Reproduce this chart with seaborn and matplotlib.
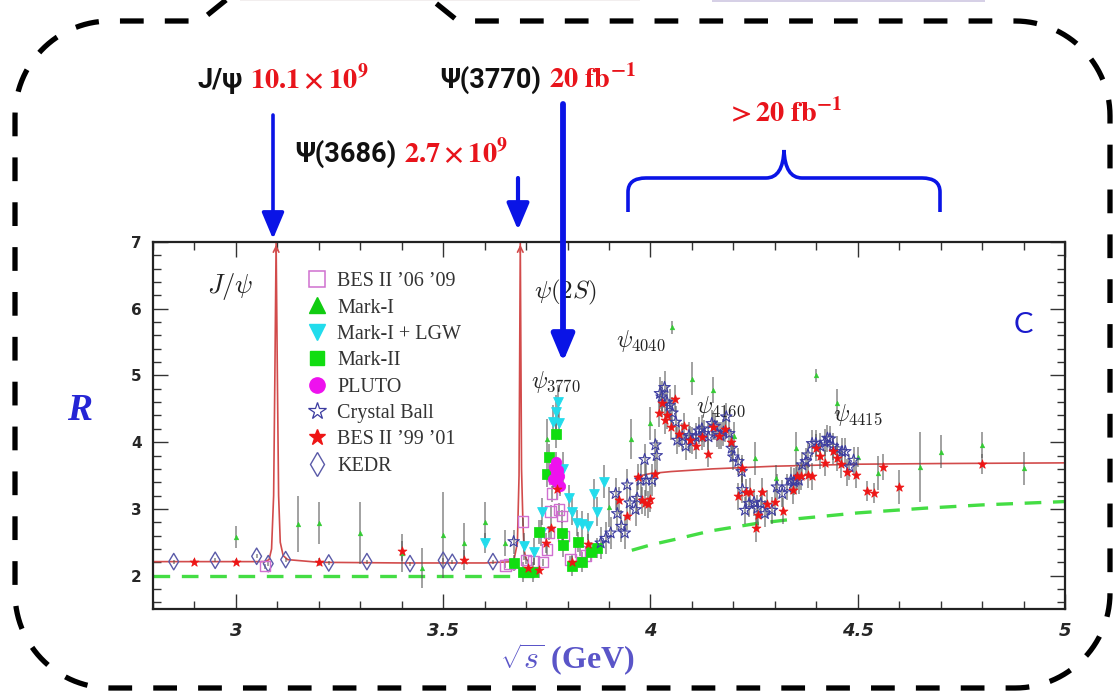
import numpy as np
import pandas as pd
import seaborn as sns
import matplotlib.pyplot as plt
from matplotlib.lines import Line2D
from matplotlib.patches import FancyArrowPatch, PathPatch, Rectangle
from matplotlib.path import Path

# ---- data (sqrt(s) in GeV, R, error) ----
kedr_x = [2.85, 2.95, 3.05, 3.078, 3.12, 3.224, 3.316, 3.42, 3.50, 3.522, 3.62]
kedr_y = [2.21, 2.23, 2.29, 2.18, 2.24, 2.19, 2.21, 2.18, 2.23, 2.20, 2.21]
kedr_e = [0.03, 0.03, 0.03, 0.03, 0.03, 0.03, 0.03, 0.03, 0.03, 0.03, 0.03]

bes0609_x = [3.07, 3.65, 3.66, 3.693, 3.70, 3.718, 3.74, 3.75, 3.755, 3.759,
             3.763, 3.767, 3.779, 3.787, 3.79, 3.807, 3.83, 3.845]
bes0609_y = [2.14, 2.15, 2.17, 2.81, 2.23, 2.21, 2.20, 2.39, 2.64, 2.96,
             3.23, 3.45, 2.99, 2.89, 2.59, 2.24, 2.36, 2.30]
bes0609_e = [0.04, 0.04, 0.04, 0.06, 0.05, 0.05, 0.05, 0.08, 0.10, 0.10,
             0.12, 0.12, 0.10, 0.10, 0.08, 0.06, 0.06, 0.06]

pluto_x = [3.765, 3.768, 3.771, 3.772, 3.774, 3.777, 3.780, 3.783]
pluto_y = [3.45, 3.63, 3.55, 3.70, 3.40, 3.58, 3.50, 3.35]
pluto_e = [0.15, 0.15, 0.15, 0.15, 0.15, 0.15, 0.15, 0.15]

marki_x = [3.00, 3.15, 3.20, 3.30, 3.40, 3.45, 3.50, 3.55, 3.60, 3.65,
           3.75, 3.90, 3.952, 4.00, 4.051, 4.101, 4.151, 4.202, 4.252, 4.302,
           4.35, 4.399, 4.451, 4.501, 4.55, 4.651, 4.70, 4.80, 4.90]
marki_y = [2.58, 2.78, 2.79, 2.64, 2.34, 2.11, 2.61, 2.49, 2.80, 2.49,
           4.05, 3.03, 4.05, 4.28, 5.72, 4.95, 4.78, 4.10, 3.76, 3.46,
           3.91, 5.00, 4.59, 3.78, 3.54, 3.63, 3.86, 3.96, 3.61]
marki_e = [0.16, 0.42, 0.32, 0.46, 0.28, 0.30, 0.65, 0.30, 0.30, 0.20,
           0.30, 0.30, 0.30, 0.25, 0.10, 0.25, 0.20, 0.20, 0.25, 0.20,
           0.25, 0.10, 0.20, 0.15, 0.25, 0.53, 0.25, 0.20, 0.25]

lgw_x = [3.60, 3.695, 3.72, 3.735, 3.739, 3.765, 3.772, 3.776, 3.780, 3.79,
         3.803, 3.811, 3.823, 3.835, 3.849, 3.865, 3.87, 3.888]
lgw_y = [2.49, 2.44, 2.36, 2.64, 2.96, 4.30, 4.45, 4.60, 4.28, 3.60,
         3.16, 2.96, 2.79, 2.77, 2.74, 3.23, 2.96, 3.41]
lgw_e = [0.15, 0.20, 0.20, 0.20, 0.20, 0.25, 0.25, 0.25, 0.25, 0.25,
         0.20, 0.20, 0.20, 0.20, 0.20, 0.22, 0.22, 0.25]

markii_x = [3.672, 3.693, 3.717, 3.731, 3.75, 3.755, 3.771, 3.787, 3.79, 3.81,
            3.825, 3.835, 3.856, 3.872]
markii_y = [2.19, 2.06, 2.06, 2.66, 3.53, 3.78, 4.13, 2.64, 2.46, 2.14,
            2.50, 2.20, 2.35, 2.41]
markii_e = [0.12, 0.15, 0.15, 0.18, 0.20, 0.20, 0.22, 0.18, 0.18, 0.15,
            0.15, 0.15, 0.15, 0.15]

cb_x = [3.67, 3.88, 3.892, 3.904, 3.916, 3.92, 3.93, 3.938, 3.944, 3.95,
        3.964, 3.968, 3.976, 3.986, 3.99, 4.004, 4.012, 4.015, 4.023, 4.027,
        4.034, 4.04, 4.046, 4.053, 4.061, 4.065, 4.077, 4.085, 4.093, 4.101,
        4.109, 4.117, 4.124, 4.13, 4.14, 4.148, 4.155, 4.161, 4.169, 4.176,
        4.183, 4.19, 4.196, 4.20, 4.212, 4.22, 4.222, 4.228, 4.238, 4.25,
        4.258, 4.266, 4.276, 4.293, 4.305, 4.318, 4.33, 4.339, 4.346, 4.35,
        4.358, 4.366, 4.375, 4.38, 4.39, 4.399, 4.41, 4.42, 4.427, 4.433,
        4.44, 4.45, 4.462, 4.47, 4.48, 4.49]
cb_y = [2.51, 2.49, 2.56, 2.64, 3.23, 2.93, 2.74, 2.64, 3.36, 3.09,
        2.99, 3.16, 3.43, 3.74, 3.43, 3.43, 3.96, 3.80, 4.73, 4.68,
        4.82, 4.60, 4.55, 4.44, 4.30, 4.03, 4.08, 3.94, 4.10, 4.03,
        4.08, 4.17, 4.20, 4.13, 4.08, 4.28, 4.24, 4.13, 4.10, 4.15,
        4.38, 4.13, 3.91, 3.78, 3.71, 3.56, 3.29, 2.98, 3.08, 3.10,
        3.01, 3.08, 2.93, 2.98, 3.33, 3.23, 3.33, 3.43, 3.41, 3.43,
        3.43, 3.66, 3.71, 3.81, 3.98, 3.98, 3.94, 4.00, 4.06, 4.05,
        3.94, 3.90, 3.86, 3.86, 3.63, 3.73]
cb_e = [0.18, 0.24, 0.24, 0.24, 0.24, 0.24, 0.24, 0.24, 0.24, 0.24,
        0.24, 0.24, 0.24, 0.24, 0.24, 0.24, 0.24, 0.24, 0.24, 0.24,
        0.24, 0.24, 0.24, 0.24, 0.24, 0.20, 0.20, 0.20, 0.20, 0.20,
        0.20, 0.20, 0.20, 0.20, 0.20, 0.20, 0.20, 0.20, 0.20, 0.20,
        0.20, 0.20, 0.20, 0.20, 0.20, 0.20, 0.20, 0.20, 0.20, 0.20,
        0.20, 0.20, 0.20, 0.20, 0.20, 0.20, 0.20, 0.20, 0.20, 0.20,
        0.20, 0.20, 0.20, 0.20, 0.20, 0.20, 0.20, 0.20, 0.20, 0.20,
        0.20, 0.20, 0.20, 0.20, 0.20, 0.20]

bes9901_x = [2.90, 3.00, 3.20, 3.40, 3.55, 3.704, 3.73, 3.749, 3.76, 3.775,
             3.81, 3.85, 3.924, 3.944, 3.97, 3.98, 3.988, 3.995, 4.00, 4.01,
             4.02, 4.028, 4.034, 4.04, 4.05, 4.06, 4.07, 4.08, 4.095, 4.11,
             4.124, 4.14, 4.15, 4.165, 4.18, 4.195, 4.21, 4.22, 4.23, 4.24,
             4.254, 4.26, 4.27, 4.28, 4.30, 4.32, 4.343, 4.354, 4.362, 4.38,
             4.39, 4.40, 4.41, 4.42, 4.44, 4.45, 4.46, 4.475, 4.496, 4.522,
             4.54, 4.56, 4.60, 4.80]
bes9901_y = [2.21, 2.21, 2.21, 2.37, 2.24, 2.11, 2.08, 2.49, 2.72, 3.30,
             2.20, 2.47, 3.13, 2.89, 3.48, 3.13, 3.09, 3.07, 3.15, 3.53,
             4.43, 4.58, 4.33, 4.40, 4.23, 4.65, 4.13, 4.24, 4.04, 3.95,
             4.08, 3.83, 4.23, 4.10, 4.20, 4.00, 3.19, 3.61, 3.25, 3.26,
             2.71, 2.91, 3.26, 3.08, 3.10, 2.97, 3.28, 3.50, 3.49, 3.51,
             3.49, 3.92, 3.80, 3.69, 3.87, 3.77, 3.67, 3.55, 3.51, 3.27,
             3.24, 3.63, 3.33, 3.67]
bes9901_e = [0.04, 0.04, 0.06, 0.15, 0.15, 0.12, 0.12, 0.15, 0.15, 0.15,
             0.12, 0.15, 0.20, 0.20, 0.20, 0.20, 0.20, 0.20, 0.20, 0.20,
             0.20, 0.20, 0.20, 0.20, 0.20, 0.20, 0.20, 0.20, 0.20, 0.20,
             0.20, 0.20, 0.20, 0.20, 0.20, 0.20, 0.20, 0.20, 0.20, 0.20,
             0.20, 0.20, 0.20, 0.20, 0.20, 0.20, 0.20, 0.20, 0.20, 0.20,
             0.20, 0.20, 0.20, 0.20, 0.20, 0.20, 0.20, 0.20, 0.20, 0.15,
             0.15, 0.20, 0.25, 0.15]

# fit curve (red) and continuum (green dashed)
fit1_x = [2.80, 3.00, 3.070, 3.080, 3.086, 3.091, 3.094, 3.097, 3.100, 3.103,
          3.107, 3.114, 3.125, 3.20, 3.40, 3.60, 3.670, 3.679, 3.683, 3.686,
          3.689, 3.692, 3.695, 3.700, 3.705]
fit1_y = [2.21, 2.21, 2.21, 2.24, 2.40, 3.20, 5.00, 7.00, 5.00, 3.20,
          2.50, 2.30, 2.24, 2.20, 2.19, 2.19, 2.21, 2.49, 3.50, 7.00,
          3.60, 2.88, 2.39, 2.25, 2.22]
fit2_x = [3.962, 4.00, 4.05, 4.15, 4.30, 4.50, 4.70, 5.00]
fit2_y = [3.48, 3.53, 3.56, 3.60, 3.64, 3.67, 3.68, 3.69]

cont1_x = [2.80, 3.72]
cont1_y = [2.00, 2.00]
cont2_x = [3.955, 4.00, 4.057, 4.145, 4.254, 4.35, 4.50, 4.66, 4.80, 5.00]
cont2_y = [2.38, 2.46, 2.54, 2.67, 2.78, 2.85, 2.94, 3.01, 3.06, 3.11]

legend_labels = ["BES II \u201906 \u201909", "Mark-I", "Mark-I + LGW", "Mark-II",
                 "PLUTO", "Crystal Ball", "BES II \u201999 \u201901", "KEDR"]

W, H = 1116, 693


def fp(x, y):
    # pixel position (origin top-left) -> figure fraction
    return (x / W, 1 - y / H)


sns.set_style("ticks")
plt.rcParams['mathtext.fontset'] = 'cm'

fig = plt.figure(figsize=(W / 100, H / 100), dpi=100)
fig.patch.set_facecolor('white')
ax = fig.add_axes([153 / W, 1 - 609 / H, 912 / W, 367 / H])

# curves
ax.plot(fit1_x, fit1_y, color='#d24b4b', lw=1.2, zorder=2)
ax.plot(fit2_x, fit2_y, color='#d24b4b', lw=1.2, zorder=2)
ax.plot(cont1_x, cont1_y, color='#44dd44', lw=2.4, ls=(0, (5, 3.5)), zorder=2)
ax.plot(cont2_x, cont2_y, color='#44dd44', lw=2.4, ls=(0, (5, 3.5)), zorder=2)
for xpk in [3.097, 3.686]:
    ax.annotate('', xy=(xpk, 7.0), xytext=(xpk, 6.8),
                arrowprops=dict(arrowstyle='->', color='#d24b4b', lw=1.2,
                                mutation_scale=10),
                annotation_clip=False)

# error bars
for xs, ys, es in [(kedr_x, kedr_y, kedr_e), (bes0609_x, bes0609_y, bes0609_e),
                   (pluto_x, pluto_y, pluto_e), (marki_x, marki_y, marki_e),
                   (lgw_x, lgw_y, lgw_e), (markii_x, markii_y, markii_e),
                   (cb_x, cb_y, cb_e), (bes9901_x, bes9901_y, bes9901_e)]:
    ax.errorbar(xs, ys, yerr=es, fmt='none', ecolor='#555555',
                elinewidth=1.1, alpha=0.7, zorder=2)

# data markers
sns.scatterplot(x=kedr_x, y=kedr_y, ax=ax, marker='d', s=70,
                facecolor='none', edgecolor='#5a5aa8', linewidth=1.0, zorder=3)
sns.scatterplot(x=bes0609_x, y=bes0609_y, ax=ax, marker='s', s=55,
                facecolor='none', edgecolor='#d070d0', linewidth=1.0, zorder=3)
sns.scatterplot(x=marki_x, y=marki_y, ax=ax, marker='^', s=12,
                color='#33cc33', edgecolor='#33cc33', zorder=3)
sns.scatterplot(x=lgw_x, y=lgw_y, ax=ax, marker='v', s=50,
                color='#22dcec', edgecolor='#22dcec', zorder=3)
sns.scatterplot(x=markii_x, y=markii_y, ax=ax, marker='s', s=45,
                color='#11dd11', edgecolor='#11dd11', zorder=3)
sns.scatterplot(x=pluto_x, y=pluto_y, ax=ax, marker='o', s=55,
                color='#ee11ee', edgecolor='#ee11ee', zorder=3)
sns.scatterplot(x=cb_x, y=cb_y, ax=ax, marker='*', s=75,
                facecolor='none', edgecolor='#3c3ca0', linewidth=0.8, zorder=4)
sns.scatterplot(x=bes9901_x, y=bes9901_y, ax=ax, marker='*', s=45,
                color='#ee1515', edgecolor='#ee1515', zorder=4)

# axes styling
ax.set_xlim(2.8, 5.0)
ax.set_ylim(1.5, 7.0)
ax.set_xticks([3, 3.5, 4, 4.5, 5])
ax.set_xticklabels(['3', '3.5', '4', '4.5', '5'])
ax.set_xticks(np.arange(2.8, 5.001, 0.1), minor=True)
ax.set_yticks([2, 3, 4, 5, 6, 7])
ax.set_yticks(np.arange(1.6, 7.001, 0.2), minor=True)
ax.tick_params(which='both', direction='in', top=True, right=True, width=1.0,
               color='#333333')
ax.tick_params(which='major', length=11)
ax.tick_params(which='minor', length=6)
ax.tick_params(axis='x', pad=9)
ax.tick_params(axis='y', pad=8)
for lab in ax.get_xticklabels():
    lab.set_fontsize(13)
    lab.set_fontweight('bold')
    lab.set_fontstyle('italic')
for lab in ax.get_yticklabels():
    lab.set_fontsize(11)
    lab.set_fontweight('bold')
for sp in ax.spines.values():
    sp.set_linewidth(1.6)
    sp.set_color('#222222')
ax.set_xlabel('')
ax.set_ylabel('')

# legend
handles = [
    Line2D([], [], ls='none', marker='s', ms=11, mfc='none', mec='#d070d0', mew=1.1),
    Line2D([], [], ls='none', marker='^', ms=11, mfc='#11cc11', mec='#11cc11'),
    Line2D([], [], ls='none', marker='v', ms=11, mfc='#22dcec', mec='#22dcec'),
    Line2D([], [], ls='none', marker='s', ms=10, mfc='#11dd11', mec='#11dd11'),
    Line2D([], [], ls='none', marker='o', ms=11, mfc='#ee11ee', mec='#ee11ee'),
    Line2D([], [], ls='none', marker='*', ms=13, mfc='none', mec='#3c3ca0', mew=0.9),
    Line2D([], [], ls='none', marker='*', ms=12, mfc='#ee1515', mec='#ee1515'),
    Line2D([], [], ls='none', marker='d', ms=12, mfc='none', mec='#5a5aa8', mew=1.0),
]
leg = ax.legend(handles, legend_labels, loc='upper left',
                bbox_to_anchor=(0.170, 0.918), frameon=False,
                borderpad=0, borderaxespad=0, handlelength=0.9,
                handletextpad=0.55, labelspacing=0.36,
                prop={'family': 'Liberation Serif', 'size': 14.5})
for t in leg.get_texts():
    t.set_color('#333333')

# peak labels
ax.text(2.986, 6.34, r'$J/\psi$', fontsize=19, ha='center', va='center', color='#222222')
ax.text(3.795, 6.24, r'$\psi(2S)$', fontsize=18, ha='center', va='center', color='#222222')
ax.text(3.771, 4.90, r'$\psi_{\rm 3770}$', fontsize=17, ha='center', va='center', color='#222222')
ax.text(3.976, 5.52, r'$\psi_{\rm 4040}$', fontsize=17, ha='center', va='center', color='#222222')
ax.text(4.17, 4.52, r'$\psi_{\rm 4160}$', fontsize=17, ha='center', va='center', color='#222222')
ax.text(4.50, 4.40, r'$\psi_{\rm 4415}$', fontsize=17, ha='center', va='center', color='#222222')
ax.text(4.899, 5.75, 'C', fontsize=21, family='Lato', color='#1a1acc',
        ha='center', va='center')

# axis titles
fig.text(*fp(80, 410), 'R', fontsize=27, family='Liberation Serif',
         style='italic', weight='bold', color='#2525d5', ha='center', va='center')
fig.text(*fp(567, 660), r'$\sqrt{s}$ (GeV)', fontsize=23, family='Liberation Serif',
         weight='bold', color='#5a55c8', ha='center', va='center')

# annotations above the plot
blk = dict(family='Roboto', weight='bold', fontsize=19.5, color='#111111', va='baseline')
red = dict(math_fontfamily='stix', fontsize=20.5, color='#e8141b', va='baseline')
fig.text(*fp(243, 88), 'J/\u03c8', ha='right', **blk)
fig.text(*fp(250, 88), r'$\mathbf{10.1\times10^{9}}$', ha='left', **red)
fig.text(*fp(541, 88), '\u03a8(3770)', ha='right', **blk)
fig.text(*fp(549, 88), r'$\mathbf{20\ fb^{-1}}$', ha='left', **red)
fig.text(*fp(396, 162), '\u03a8(3686)', ha='right', **blk)
fig.text(*fp(404, 162), r'$\mathbf{2.7\times10^{9}}$', ha='left', **red)
fig.text(*fp(784, 122), r'$\mathbf{>20\ fb^{-1}}$', ha='center', **red)

# blue arrows
blue = '#0a14e6'
for (x0, y0, y1, lw) in [(273, 115, 239, 2.6), (518, 178, 230, 3.0), (563, 104, 362, 4.2)]:
    fig.add_artist(FancyArrowPatch(fp(x0, y0), fp(x0, y1), transform=fig.transFigure,
                                   arrowstyle='-|>,head_length=0.95,head_width=0.4',
                                   mutation_scale=17, lw=lw, color=blue,
                                   shrinkA=0, shrinkB=0, zorder=5))

# curly brace
bv = [(628, 212), (628, 192), (628, 178), (646, 178), (766, 178), (783, 178),
      (784, 150), (785, 178), (802, 178), (922, 178), (940, 178), (940, 192), (940, 212)]
bc = [Path.MOVETO, Path.LINETO, Path.CURVE3, Path.CURVE3, Path.LINETO, Path.CURVE3,
      Path.CURVE3, Path.CURVE3, Path.CURVE3, Path.LINETO, Path.CURVE3, Path.CURVE3, Path.LINETO]
brace = Path([fp(x, y) for x, y in bv], bc)
fig.add_artist(PathPatch(brace, transform=fig.transFigure, fill=False,
                         edgecolor=blue, lw=2.6, zorder=5))

# dashed rounded frame
Lx, Rx, Ty, By, rad = 15, 1110, 21, 688, 95


def arc(cx, cy, a0, a1):
    t = np.radians(np.linspace(a0, a1, 30))
    return list(zip(cx + rad * np.cos(t), cy + rad * np.sin(t)))


pts = [(226, 0), (200, Ty)]
pts += arc(Lx + rad, Ty + rad, 270, 180)
pts += arc(Lx + rad, By - rad, 180, 90)
pts += arc(Rx - rad, By - rad, 90, 0)
pts += arc(Rx - rad, Ty + rad, 0, -90)
pts += [(458, Ty), (432, 0)]
fx, fy = zip(*[fp(x, y) for x, y in pts])
fig.add_artist(Line2D(fx, fy, transform=fig.transFigure, color='black', lw=3.8,
                      ls=(0, (4.5, 4)), solid_capstyle='butt', dash_capstyle='butt'))

# faint remains of the slide above
fig.add_artist(Rectangle(fp(712, 2), 273 / W, 2 / H, transform=fig.transFigure,
                         color='#d6d0e6', lw=0))
fig.add_artist(Rectangle(fp(240, 1), 400 / W, 1 / H, transform=fig.transFigure,
                         color='#f2eeee', lw=0))

fig.savefig('out.png', dpi=100)
